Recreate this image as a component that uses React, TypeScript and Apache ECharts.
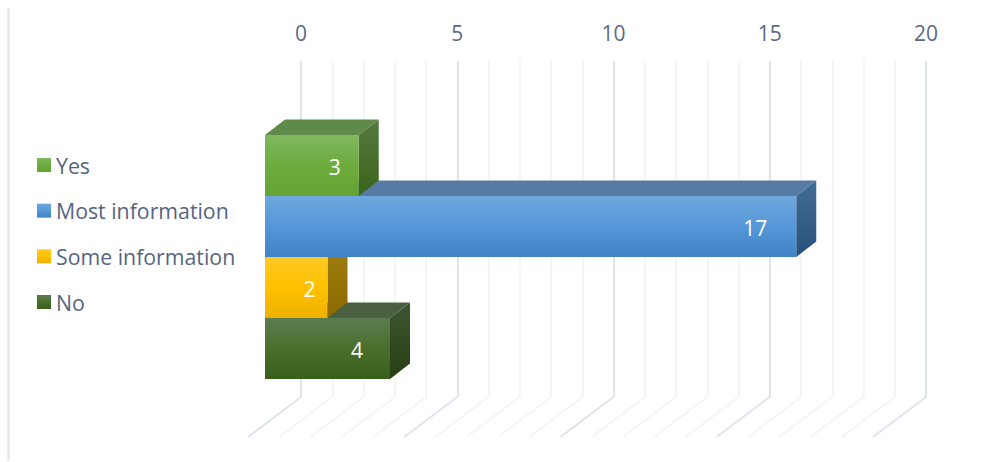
import React, { useEffect, useRef } from "react";
import * as echarts from "echarts";

const categories = ["Yes", "Most information", "Some information", "No"];
const values = [3, 17, 2, 4];
const axisTicks = [0, 5, 10, 15, 20];
const floorTicks = [0, 1, 2, 3, 4, 5, 6, 7, 8, 9, 10, 11, 12, 13, 14, 15, 16, 17, 18, 19, 20];

const FONT = "'Open Sans', 'Noto Sans', sans-serif";
const DEPTH_X = 20;
const DEPTH_Y = 15.5;
const FLOOR_X = -53;
const FLOOR_Y = 40;
const LABEL_INSET = [24, 41, 18, 33];

const grad = (stops: [number, string][]) =>
  new echarts.graphic.LinearGradient(0, 0, 0, 1, stops.map(([offset, color]) => ({ offset, color })));

const palette = [
  {
    front: [[0, "#80b960"], [0.5, "#6dab3d"], [1, "#65a335"]] as [number, string][],
    top: "#5f8a4a",
    side: [[0, "#537b41"], [1, "#3c6319"]] as [number, string][],
  },
  {
    front: [[0, "#6fa8dd"], [0.5, "#5597d8"], [1, "#3f83c6"]] as [number, string][],
    top: "#567ca5",
    side: [[0, "#446d95"], [1, "#27517c"]] as [number, string][],
  },
  {
    front: [[0, "#ffc926"], [0.5, "#ffc000"], [1, "#ecb200"]] as [number, string][],
    top: "#a98c2c",
    side: [[0, "#a07e10"], [1, "#8a6a00"]] as [number, string][],
  },
  {
    front: [[0, "#5c7c50"], [0.5, "#4a6f2d"], [1, "#385f1c"]] as [number, string][],
    top: "#4a5f40",
    side: [[0, "#3d5631"], [1, "#263f12"]] as [number, string][],
  },
];

export default function App() {
  const ref = useRef<HTMLDivElement>(null);
  useEffect(() => {
    const chart = echarts.init(ref.current!, undefined, { renderer: "svg" });

    const barSeries = categories.map((name, i) => ({
      type: "custom" as const,
      name,
      xAxisIndex: 0,
      yAxisIndex: 0,
      z: 10 - i,
      itemStyle: { color: grad(palette[i].front) },
      data: [[values[i], name]],
      encode: { x: 0, y: 1 },
      renderItem: (_p: any, api: any) => {
        const v = api.value(0);
        const [x0] = api.coord([0, name]);
        const [x1, yc] = api.coord([v, name]);
        const band = api.size([0, 1])[1];
        const y0 = yc - band / 2;
        const y1 = yc + band / 2;
        return {
          type: "group",
          children: [
            {
              type: "polygon",
              shape: { points: [[x0, y0], [x1, y0], [x1 + DEPTH_X, y0 - DEPTH_Y], [x0 + DEPTH_X, y0 - DEPTH_Y]] },
              style: { fill: palette[i].top },
            },
            {
              type: "polygon",
              shape: { points: [[x1, y0], [x1 + DEPTH_X, y0 - DEPTH_Y], [x1 + DEPTH_X, y1 - DEPTH_Y], [x1, y1]] },
              style: { fill: grad(palette[i].side) },
            },
            {
              type: "rect",
              shape: { x: x0, y: y0, width: x1 - x0, height: band },
              style: { fill: grad(palette[i].front) },
            },
            {
              type: "text",
              x: x1 - LABEL_INSET[i],
              y: yc + 1,
              style: {
                text: String(v),
                fill: "#ffffff",
                font: `21px ${FONT}`,
                align: "center",
                verticalAlign: "middle",
              },
            },
          ],
        };
      },
    }));

    const floorSeries = {
      type: "custom" as const,
      xAxisIndex: 1,
      yAxisIndex: 1,
      z: 1,
      silent: true,
      data: floorTicks.map((t) => [t, 0]),
      encode: { x: 0, y: 1 },
      renderItem: (_p: any, api: any) => {
        const t = api.value(0);
        const [x, y] = api.coord([t, 0]);
        return {
          type: "line",
          shape: { x1: x, y1: y, x2: x + FLOOR_X, y2: y + FLOOR_Y },
          style: { stroke: t % 5 === 0 ? "#dfe3ec" : "#f4f5f8", lineWidth: 2 },
        };
      },
    };

    chart.setOption({
      animation: false,
      backgroundColor: "#ffffff",
      grid: [
        { left: 265, width: 625, top: 135, height: 244 },
        { left: 301, width: 625, top: 61, height: 336 },
      ],
      xAxis: [
        { type: "value", gridIndex: 0, min: 0, max: 20, show: false },
        {
          type: "value",
          gridIndex: 1,
          position: "top",
          min: 0,
          max: 20,
          interval: 5,
          axisLine: { show: false },
          axisTick: { show: false },
          axisLabel: {
            color: "#5a6a85",
            fontSize: 21,
            fontFamily: FONT,
            margin: 18,
            formatter: (v: number) => (axisTicks.includes(v) ? String(v) : ""),
          },
          splitLine: { show: true, lineStyle: { color: "#dfe3ec", width: 2 } },
          minorTick: { show: false, splitNumber: 5 },
          minorSplitLine: { show: true, lineStyle: { color: "#f4f5f8", width: 2 } },
        },
      ],
      yAxis: [
        { type: "category", gridIndex: 0, data: categories, inverse: true, show: false },
        { type: "value", gridIndex: 1, min: 0, max: 1, show: false },
      ],
      legend: {
        orient: "vertical",
        left: 32,
        top: 148,
        icon: "rect",
        itemWidth: 14,
        itemHeight: 14,
        itemGap: 21.67,
        data: categories,
        textStyle: { color: "#56657f", fontSize: 21.3, fontFamily: FONT, lineHeight: 24 },
      },
      graphic: [
        {
          type: "line",
          shape: { x1: 8.5, y1: 8, x2: 8.5, y2: 461 },
          style: { stroke: "#e2e6ef", lineWidth: 2.5 },
        },
      ],
      series: [floorSeries, ...barSeries],
    });
    return () => chart.dispose();
  }, []);
  return <div ref={ref} style={{ position: "fixed", left: 0, top: 0, width: 988, height: 462 }} />;
}
